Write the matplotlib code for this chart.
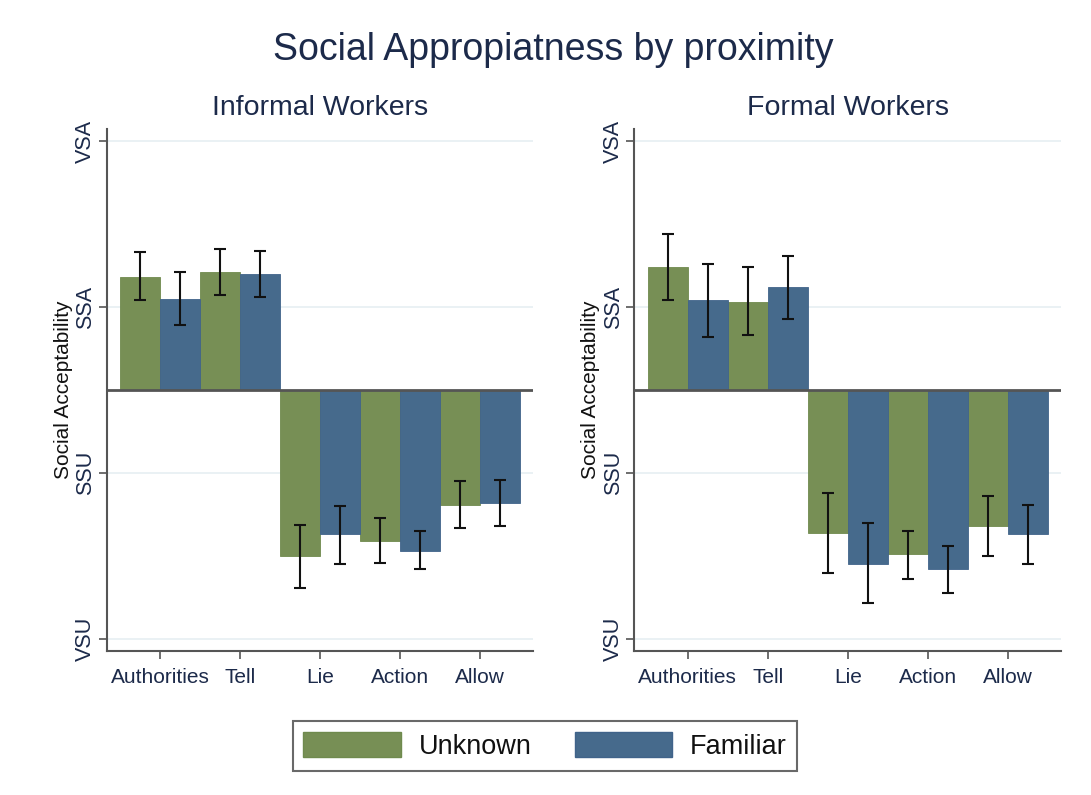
import numpy as np
import matplotlib.pyplot as plt
from matplotlib.patches import Patch

plt.rcParams['font.family'] = ['Liberation Sans', 'DejaVu Sans']

# Data (scale: VSU=1, SSU=2, SSA=3, VSA=4; bars start from the neutral midpoint 2.5)
categories = ['Authorities', 'Tell', 'Lie', 'Action', 'Allow']
tick_labels = ['VSU', 'SSU', 'SSA', 'VSA']
tick_values = [1, 2, 3, 4]

informal_unknown = [3.18, 3.21, 1.50, 1.59, 1.81]
informal_unknown_lo = [3.04, 3.07, 1.31, 1.46, 1.67]
informal_unknown_hi = [3.33, 3.35, 1.69, 1.73, 1.95]
informal_familiar = [3.05, 3.20, 1.63, 1.53, 1.82]
informal_familiar_lo = [2.89, 3.06, 1.45, 1.42, 1.68]
informal_familiar_hi = [3.21, 3.34, 1.80, 1.65, 1.96]

formal_unknown = [3.24, 3.03, 1.64, 1.51, 1.68]
formal_unknown_lo = [3.04, 2.83, 1.40, 1.36, 1.50]
formal_unknown_hi = [3.44, 3.24, 1.88, 1.65, 1.86]
formal_familiar = [3.04, 3.12, 1.45, 1.42, 1.63]
formal_familiar_lo = [2.82, 2.93, 1.22, 1.28, 1.45]
formal_familiar_hi = [3.26, 3.31, 1.70, 1.56, 1.81]

baseline = 2.5
green = '#778f55'
blue = '#466a8c'
text_color = '#1c2a4a'

fig = plt.figure(figsize=(10.91, 7.95), dpi=100)
ax1 = fig.add_axes([0.0978, 0.1811, 0.3905, 0.6566])
ax2 = fig.add_axes([0.5814, 0.1811, 0.3911, 0.6566])

panels = [
    (ax1, 'Informal Workers', informal_unknown, informal_unknown_lo, informal_unknown_hi,
     informal_familiar, informal_familiar_lo, informal_familiar_hi),
    (ax2, 'Formal Workers', formal_unknown, formal_unknown_lo, formal_unknown_hi,
     formal_familiar, formal_familiar_lo, formal_familiar_hi),
]

x = np.arange(len(categories))
w = 0.5

for ax, title, u, ulo, uhi, f, flo, fhi in panels:
    u, ulo, uhi = np.array(u), np.array(ulo), np.array(uhi)
    f, flo, fhi = np.array(f), np.array(flo), np.array(fhi)

    ax.set_axisbelow(True)
    ax.grid(axis='y', color='#e6eff2', linewidth=1.2)
    ax.grid(axis='x', visible=False)

    ax.bar(x - w / 2, u - baseline, width=w, bottom=baseline, color=green,
           edgecolor='#6f8a4e', linewidth=0.6, zorder=2)
    ax.bar(x + w / 2, f - baseline, width=w, bottom=baseline, color=blue,
           edgecolor='#40638a', linewidth=0.6, zorder=2)

    ax.errorbar(x - w / 2, u, yerr=[u - ulo, uhi - u], fmt='none', ecolor='#111111',
                elinewidth=1.5, capsize=4, capthick=1.5, zorder=4)
    ax.errorbar(x + w / 2, f, yerr=[f - flo, fhi - f], fmt='none', ecolor='#111111',
                elinewidth=1.5, capsize=4, capthick=1.5, zorder=4)

    ax.axhline(baseline, color='#555555', linewidth=2, zorder=3)

    ax.set_xlim(-0.667, 4.66)
    ax.set_ylim(0.928, 4.072)
    ax.set_xticks(x)
    ax.set_xticklabels(categories, fontsize=15, color=text_color)
    ax.set_yticks(tick_values)
    ax.set_yticklabels(tick_labels, fontsize=15.5, color=text_color, rotation=90, va='center')
    ax.tick_params(axis='both', direction='out', length=6, width=1.2, color='#555555')
    ax.tick_params(axis='y', pad=1.5)
    ax.tick_params(axis='x', pad=6)

    for side in ['top', 'right']:
        ax.spines[side].set_visible(False)
    for side in ['left', 'bottom']:
        ax.spines[side].set_color('#555555')
        ax.spines[side].set_linewidth(1.5)

    ax.set_ylabel('Social Acceptability', fontsize=15, color='#111111')
    ax.yaxis.set_label_coords(-0.08, 0.5)
    ax.set_title(title, fontsize=20.5, color=text_color, pad=10)

fig.suptitle('Social Appropiatness by proximity', fontsize=27, color=text_color,
             x=0.507, y=0.96)

handles = [Patch(facecolor=green, edgecolor='#6f8a4e'),
           Patch(facecolor=blue, edgecolor='#40638a')]
leg = fig.legend(handles, ['Unknown', 'Familiar'], loc='center', ncol=2,
                 bbox_to_anchor=(545 / 1091, 1 - 746 / 795), fontsize=19.5,
                 handlelength=3.6, handleheight=1.05, columnspacing=1.6,
                 handletextpad=0.65, fancybox=False, frameon=True,
                 borderpad=0.4)
leg.get_frame().set_edgecolor('#444444')
leg.get_frame().set_linewidth(1.5)
for t in leg.get_texts():
    t.set_color('#111111')

plt.savefig('out.png', dpi=100, facecolor='white')
